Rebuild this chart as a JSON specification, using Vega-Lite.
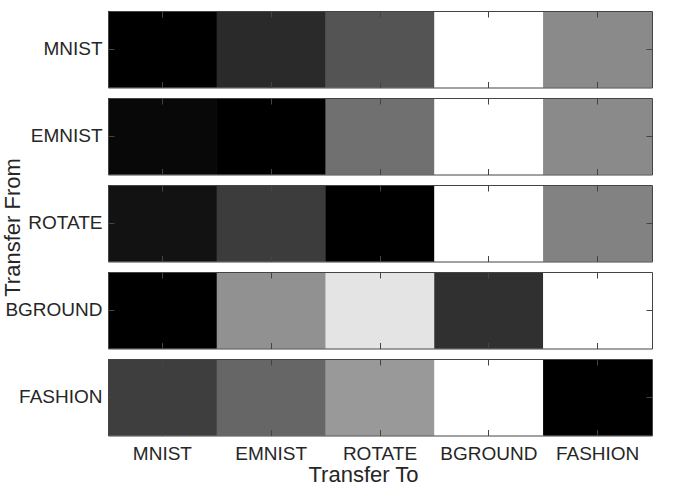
{
  "$schema": "https://vega.github.io/schema/vega-lite/v6.json",
  "padding": {"left": 0, "top": 10, "right": 5, "bottom": 4},
  "background": "white",
  "bounds": "flush",
  "datasets": {
    "cells": [
      {"from": "MNIST", "to": "MNIST", "gray": 0},
      {"from": "MNIST", "to": "EMNIST", "gray": 42},
      {"from": "MNIST", "to": "ROTATE", "gray": 84},
      {"from": "MNIST", "to": "BGROUND", "gray": 255},
      {"from": "MNIST", "to": "FASHION", "gray": 138},
      {"from": "EMNIST", "to": "MNIST", "gray": 8},
      {"from": "EMNIST", "to": "EMNIST", "gray": 0},
      {"from": "EMNIST", "to": "ROTATE", "gray": 112},
      {"from": "EMNIST", "to": "BGROUND", "gray": 255},
      {"from": "EMNIST", "to": "FASHION", "gray": 138},
      {"from": "ROTATE", "to": "MNIST", "gray": 18},
      {"from": "ROTATE", "to": "EMNIST", "gray": 60},
      {"from": "ROTATE", "to": "ROTATE", "gray": 0},
      {"from": "ROTATE", "to": "BGROUND", "gray": 255},
      {"from": "ROTATE", "to": "FASHION", "gray": 130},
      {"from": "BGROUND", "to": "MNIST", "gray": 0},
      {"from": "BGROUND", "to": "EMNIST", "gray": 145},
      {"from": "BGROUND", "to": "ROTATE", "gray": 228},
      {"from": "BGROUND", "to": "BGROUND", "gray": 48},
      {"from": "BGROUND", "to": "FASHION", "gray": 255},
      {"from": "FASHION", "to": "MNIST", "gray": 62},
      {"from": "FASHION", "to": "EMNIST", "gray": 102},
      {"from": "FASHION", "to": "ROTATE", "gray": 153},
      {"from": "FASHION", "to": "BGROUND", "gray": 255},
      {"from": "FASHION", "to": "FASHION", "gray": 0}
    ]
  },
  "spacing": 10,
  "vconcat": [
    {
      "data": {"name": "cells"},
      "transform": [{"filter": "datum.from === 'MNIST'"}],
      "width": 544, "height": 76.5,
      "layer": [
        {"mark": {"type": "rect"}, "encoding": {
          "x": {"field": "to", "type": "nominal", "sort": ["MNIST","EMNIST","ROTATE","BGROUND","FASHION"], "scale": {"paddingInner": 0, "paddingOuter": 0}, "axis": {"orient": "bottom", "labels": false, "title": null, "zindex": 1, "tickSize": -6}},
          "y": {"field": "from", "type": "nominal", "scale": {"paddingInner": 0, "paddingOuter": 0}, "axis": {"orient": "left", "title": null, "zindex": 1, "tickSize": -6}},
          "color": {"field": "gray", "type": "quantitative", "scale": {"domain": [0, 255], "range": ["#000000", "#ffffff"], "interpolate": "rgb"}, "legend": null}}},
        {"mark": {"type": "rect"}, "encoding": {
          "x": {"field": "to", "type": "nominal", "sort": ["MNIST","EMNIST","ROTATE","BGROUND","FASHION"], "scale": {"paddingInner": 0, "paddingOuter": 0}, "axis": {"orient": "top", "labels": false, "title": null, "zindex": 1, "tickSize": -6}},
          "y": {"field": "from", "type": "nominal", "scale": {"paddingInner": 0, "paddingOuter": 0}, "axis": {"orient": "right", "labels": false, "title": null, "zindex": 1, "tickSize": -6}},
          "color": {"field": "gray", "type": "quantitative", "scale": {"domain": [0, 255], "range": ["#000000", "#ffffff"], "interpolate": "rgb"}, "legend": null}}}
      ],
      "resolve": {"axis": {"x": "independent", "y": "independent"}}
    },
    {
      "data": {"name": "cells"},
      "transform": [{"filter": "datum.from === 'EMNIST'"}],
      "width": 544, "height": 76.5,
      "layer": [
        {"mark": {"type": "rect"}, "encoding": {
          "x": {"field": "to", "type": "nominal", "sort": ["MNIST","EMNIST","ROTATE","BGROUND","FASHION"], "scale": {"paddingInner": 0, "paddingOuter": 0}, "axis": {"orient": "bottom", "labels": false, "title": null, "zindex": 1, "tickSize": -6}},
          "y": {"field": "from", "type": "nominal", "scale": {"paddingInner": 0, "paddingOuter": 0}, "axis": {"orient": "left", "title": null, "zindex": 1, "tickSize": -6}},
          "color": {"field": "gray", "type": "quantitative", "scale": {"domain": [0, 255], "range": ["#000000", "#ffffff"], "interpolate": "rgb"}, "legend": null}}},
        {"mark": {"type": "rect"}, "encoding": {
          "x": {"field": "to", "type": "nominal", "sort": ["MNIST","EMNIST","ROTATE","BGROUND","FASHION"], "scale": {"paddingInner": 0, "paddingOuter": 0}, "axis": {"orient": "top", "labels": false, "title": null, "zindex": 1, "tickSize": -6}},
          "y": {"field": "from", "type": "nominal", "scale": {"paddingInner": 0, "paddingOuter": 0}, "axis": {"orient": "right", "labels": false, "title": null, "zindex": 1, "tickSize": -6}},
          "color": {"field": "gray", "type": "quantitative", "scale": {"domain": [0, 255], "range": ["#000000", "#ffffff"], "interpolate": "rgb"}, "legend": null}}}
      ],
      "resolve": {"axis": {"x": "independent", "y": "independent"}}
    },
    {
      "data": {"name": "cells"},
      "transform": [{"filter": "datum.from === 'ROTATE'"}],
      "width": 544, "height": 76.5,
      "layer": [
        {"mark": {"type": "rect"}, "encoding": {
          "x": {"field": "to", "type": "nominal", "sort": ["MNIST","EMNIST","ROTATE","BGROUND","FASHION"], "scale": {"paddingInner": 0, "paddingOuter": 0}, "axis": {"orient": "bottom", "labels": false, "title": null, "zindex": 1, "tickSize": -6}},
          "y": {"field": "from", "type": "nominal", "scale": {"paddingInner": 0, "paddingOuter": 0}, "axis": {"orient": "left", "zindex": 1, "tickSize": -6, "title": "Transfer From", "titleX": -89, "titleY": 42, "titleAngle": -90, "titleBaseline": "alphabetic", "titleAlign": "center"}},
          "color": {"field": "gray", "type": "quantitative", "scale": {"domain": [0, 255], "range": ["#000000", "#ffffff"], "interpolate": "rgb"}, "legend": null}}},
        {"mark": {"type": "rect"}, "encoding": {
          "x": {"field": "to", "type": "nominal", "sort": ["MNIST","EMNIST","ROTATE","BGROUND","FASHION"], "scale": {"paddingInner": 0, "paddingOuter": 0}, "axis": {"orient": "top", "labels": false, "title": null, "zindex": 1, "tickSize": -6}},
          "y": {"field": "from", "type": "nominal", "scale": {"paddingInner": 0, "paddingOuter": 0}, "axis": {"orient": "right", "labels": false, "title": null, "zindex": 1, "tickSize": -6}},
          "color": {"field": "gray", "type": "quantitative", "scale": {"domain": [0, 255], "range": ["#000000", "#ffffff"], "interpolate": "rgb"}, "legend": null}}}
      ],
      "resolve": {"axis": {"x": "independent", "y": "independent"}}
    },
    {
      "data": {"name": "cells"},
      "transform": [{"filter": "datum.from === 'BGROUND'"}],
      "width": 544, "height": 76.5,
      "layer": [
        {"mark": {"type": "rect"}, "encoding": {
          "x": {"field": "to", "type": "nominal", "sort": ["MNIST","EMNIST","ROTATE","BGROUND","FASHION"], "scale": {"paddingInner": 0, "paddingOuter": 0}, "axis": {"orient": "bottom", "labels": false, "title": null, "zindex": 1, "tickSize": -6}},
          "y": {"field": "from", "type": "nominal", "scale": {"paddingInner": 0, "paddingOuter": 0}, "axis": {"orient": "left", "title": null, "zindex": 1, "tickSize": -6}},
          "color": {"field": "gray", "type": "quantitative", "scale": {"domain": [0, 255], "range": ["#000000", "#ffffff"], "interpolate": "rgb"}, "legend": null}}},
        {"mark": {"type": "rect"}, "encoding": {
          "x": {"field": "to", "type": "nominal", "sort": ["MNIST","EMNIST","ROTATE","BGROUND","FASHION"], "scale": {"paddingInner": 0, "paddingOuter": 0}, "axis": {"orient": "top", "labels": false, "title": null, "zindex": 1, "tickSize": -6}},
          "y": {"field": "from", "type": "nominal", "scale": {"paddingInner": 0, "paddingOuter": 0}, "axis": {"orient": "right", "labels": false, "title": null, "zindex": 1, "tickSize": -6}},
          "color": {"field": "gray", "type": "quantitative", "scale": {"domain": [0, 255], "range": ["#000000", "#ffffff"], "interpolate": "rgb"}, "legend": null}}}
      ],
      "resolve": {"axis": {"x": "independent", "y": "independent"}}
    },
    {
      "data": {"name": "cells"},
      "transform": [{"filter": "datum.from === 'FASHION'"}],
      "width": 544, "height": 76.5,
      "layer": [
        {"mark": {"type": "rect"}, "encoding": {
          "x": {"field": "to", "type": "nominal", "sort": ["MNIST","EMNIST","ROTATE","BGROUND","FASHION"], "scale": {"paddingInner": 0, "paddingOuter": 0}, "axis": {"orient": "bottom", "zindex": 1, "tickSize": -6, "title": "Transfer To", "titleX": 255, "titleY": 46, "titleBaseline": "alphabetic", "titleAlign": "center"}},
          "y": {"field": "from", "type": "nominal", "scale": {"paddingInner": 0, "paddingOuter": 0}, "axis": {"orient": "left", "title": null, "zindex": 1, "tickSize": -6}},
          "color": {"field": "gray", "type": "quantitative", "scale": {"domain": [0, 255], "range": ["#000000", "#ffffff"], "interpolate": "rgb"}, "legend": null}}},
        {"mark": {"type": "rect"}, "encoding": {
          "x": {"field": "to", "type": "nominal", "sort": ["MNIST","EMNIST","ROTATE","BGROUND","FASHION"], "scale": {"paddingInner": 0, "paddingOuter": 0}, "axis": {"orient": "top", "labels": false, "title": null, "zindex": 1, "tickSize": -6}},
          "y": {"field": "from", "type": "nominal", "scale": {"paddingInner": 0, "paddingOuter": 0}, "axis": {"orient": "right", "labels": false, "title": null, "zindex": 1, "tickSize": -6}},
          "color": {"field": "gray", "type": "quantitative", "scale": {"domain": [0, 255], "range": ["#000000", "#ffffff"], "interpolate": "rgb"}, "legend": null}}}
      ],
      "resolve": {"axis": {"x": "independent", "y": "independent"}}
    }
  ],
  "config": {
    "view": {"stroke": null},
    "axis": {
      "domain": true, "domainColor": "#444444", "domainWidth": 1,
      "grid": false, "tickColor": "#444444", "tickWidth": 1,
      "labelFont": "Liberation Sans", "labelFontSize": 19, "labelColor": "#262626",
      "titleFont": "Liberation Sans", "titleFontSize": 22, "titleFontWeight": "normal", "titleColor": "#262626"
    },
    "axisY": {"labelPadding": 12},
    "axisX": {"labelPadding": 15, "labelAngle": 0}
  }
}
